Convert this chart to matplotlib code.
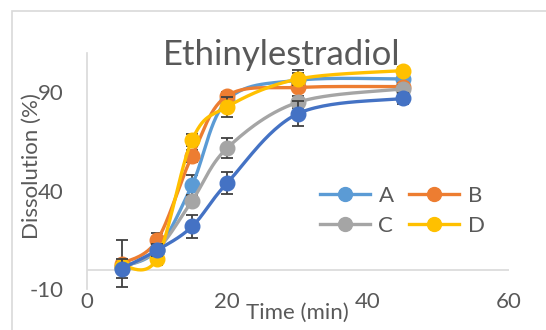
import numpy as np
import matplotlib
matplotlib.use("Agg")
from matplotlib import pyplot as plt
from matplotlib.patches import Rectangle

plt.rcParams['font.family'] = ['Lato', 'DejaVu Sans']
plt.rcParams['axes.unicode_minus'] = False

# dissolution data
time = [5, 10, 15, 20, 30, 45]
series_names = ['A', 'B', 'C', 'D', '']
A = [1.5, 10, 43, 86, 96, 96.7]
B = [3, 14.8, 57.8, 88.2, 92.4, 92.8]
C = [1, 10, 35, 61.7, 84.8, 91.6]
D = [2, 5.5, 65.8, 82.6, 96.6, 100.9]
E = [0.5, 9.8, 21.9, 44, 79, 86.8]
A_err = [2, 2, 5, 3, 5, 2]
B_err = [12, 4, 3, 2, 2, 2]
C_err = [2, 2, 3, 5, 3, 2]
D_err = [2, 3, 3, 5, 3, 2]
E_err = [5, 3, 6, 5.5, 6.4, 3]
x_ticks = [0, 20, 40, 60]
y_ticks = [-10, 40, 90]

colors = ['#5B9BD5', '#ED7D31', '#A5A5A5', '#FFC000', '#4472C4']
txt = '#595959'


def smooth(x, y, sx=7.03, sy=1.976, n=30):
    # excel-like smoothed line (catmull-rom bezier in screen-ish units)
    p = np.column_stack([np.array(x) * sx, np.array(y) * sy])
    out = []
    for i in range(len(p) - 1):
        p0 = p[i - 1] if i > 0 else p[i]
        p1 = p[i]
        p2 = p[i + 1]
        p3 = p[i + 2] if i + 2 < len(p) else p[i + 1]
        c1 = p1 + (p2 - p0) / 6.0
        c2 = p2 - (p3 - p1) / 6.0
        t = np.linspace(0, 1, n)[:, None]
        seg = ((1 - t) ** 3) * p1 + 3 * ((1 - t) ** 2) * t * c1 + 3 * (1 - t) * t ** 2 * c2 + t ** 3 * p2
        out.append(seg if i == 0 else seg[1:])
    out = np.vstack(out)
    return out[:, 0] / sx, out[:, 1] / sy


fig = plt.figure(figsize=(5.46, 3.30), dpi=100)
ax = fig.add_axes([86.7 / 546, 1 - 289.3 / 330, (508.5 - 86.7) / 546, (289.3 - 52.7) / 330])

fig.patches.append(Rectangle((12 / 546, -0.2), 2, 1.2 - 11 / 330, transform=fig.transFigure,
                             fill=False, edgecolor='#D9D9D9', linewidth=1.2))

all_y = [A, B, C, D, E]
all_err = [A_err, B_err, C_err, D_err, E_err]
handles = {}
z = 3
for name, yv, err, col in zip(series_names, all_y, all_err, colors):
    sx, sy = smooth(time, yv)
    ax.errorbar(time, yv, yerr=err, fmt='none', ecolor='#404040', elinewidth=1.3,
                capsize=4.5, capthick=1.3, zorder=z - 0.1)
    ax.plot(sx, sy, color=col, linewidth=2.4, zorder=z, solid_capstyle='round')
    ax.plot(time, yv, 'o', color=col, markersize=10.5, zorder=z + 0.1)
    if name:
        h, = ax.plot([], [], '-o', color=col, linewidth=2.4, markersize=10)
        handles[name] = h
    z += 1

ax.set_xlim(0, 60)
ax.set_ylim(-10, 110)
ax.set_xticks(x_ticks)
ax.set_yticks(y_ticks)
ax.axhline(0, color='#D9D9D9', linewidth=1.2, zorder=1)
for s in ['top', 'right', 'bottom']:
    ax.spines[s].set_visible(False)
ax.spines['left'].set_color('#D9D9D9')
ax.spines['left'].set_linewidth(1.2)
ax.tick_params(axis='both', length=0, labelsize=16, labelcolor=txt)
ax.tick_params(axis='y', pad=16.5)
ax.tick_params(axis='x', pad=2)
ax.patch.set_alpha(0)

ax.set_xlabel('Time (min)', fontsize=16, color=txt)
ax.xaxis.label.set_va('center')
ax.xaxis.set_label_coords(0.5, -0.10)
ax.set_ylabel('Dissolution (%)', fontsize=16, color=txt)
ax.yaxis.label.set_va('center')
ax.yaxis.set_label_coords(-0.1304, 0.52)

fig.text(282 / 546, 1 - 55 / 330, 'Ethinylestradiol', fontsize=25, color=txt,
         ha='center', va='center')

# legend rows: A B / C D
order = ['A', 'C', 'B', 'D']
ax.legend([handles[k] for k in order], order, ncol=2, frameon=False, fontsize=16,
          labelcolor=txt, loc='upper left',
          bbox_to_anchor=(319.6 / 546, 1 - 186 / 330), bbox_transform=fig.transFigure,
          handlelength=2.25, handletextpad=0.4, columnspacing=0.7, labelspacing=0.45,
          borderpad=0, borderaxespad=0)

fig.savefig('out.png', dpi=100)
